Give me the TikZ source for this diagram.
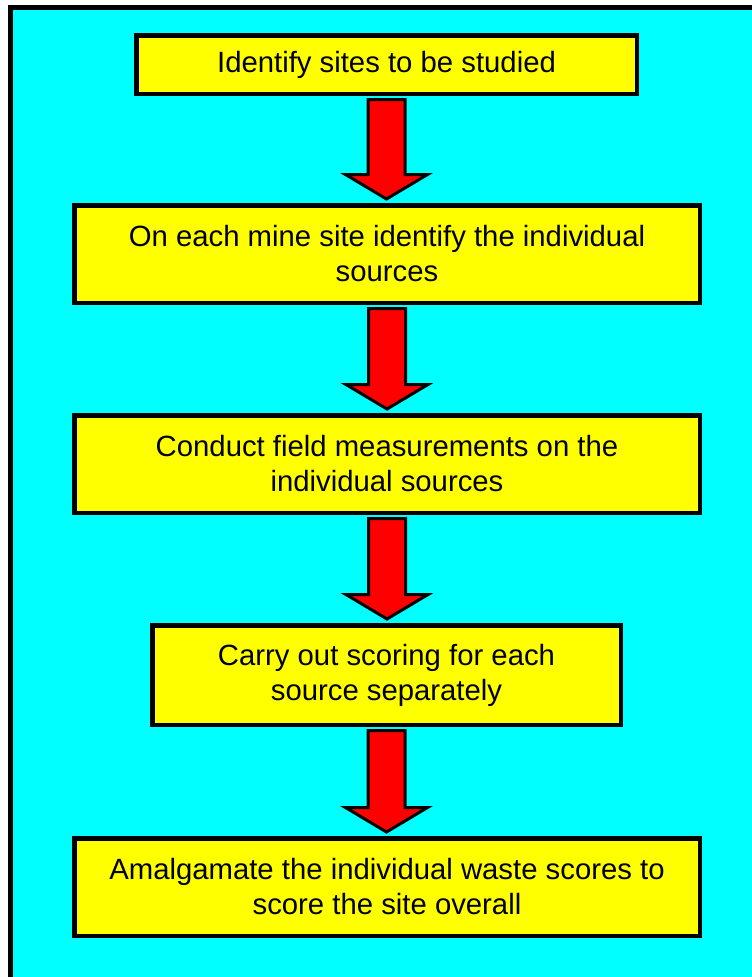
\documentclass[tikz,border=0pt]{standalone}
\usepackage{fontspec}
\setmainfont{Liberation Sans}
\usepackage{tikz}
\usetikzlibrary{calc}
\definecolor{bgcyan}{HTML}{00FFFF}
\definecolor{boxyel}{HTML}{FFFF00}
\definecolor{arrred}{HTML}{FF0000}
\tikzset{
  frm/.style={draw=black,line width=5pt,fill=bgcyan},
  stp/.style={draw=black,line width=4.5pt,fill=boxyel,align=center,inner sep=0pt,font=\fontsize{29.3}{35}\selectfont},
  dn/.style={draw=black,line width=3pt,fill=arrred,line join=miter}
}
\newcommand{\dnarr}[2]{%
  \draw[dn] let \p1=($(#1.south)+(0,-3.5pt)$), \p2=($(#2.north)+(0,4pt)$) in
    (\x1-18.5pt,\y1) -- (\x1+18.5pt,\y1) -- (\x1+18.5pt,\y2+24.5pt) -- (\x1+41pt,\y2+24.5pt)
    -- (\x1,\y2) -- (\x1-41pt,\y2+24.5pt) -- (\x1-18.5pt,\y2+24.5pt) -- cycle;}

\begin{document}
\begin{tikzpicture}[x=1pt,y=-1pt]
\clip (0,0) rectangle (752,977);
\fill[white] (0,0) rectangle (752,977);
\draw[frm] (10.5,7.5) rectangle (775,1000);
\node[stp,minimum width=500.5pt,minimum height=58.5pt] (sites) at (386.5,64.5) {Identify sites to be studied};
\node[stp,minimum width=625.5pt,minimum height=97.5pt] (sources) at (387,254) {On each mine site identify the individual\\sources};
\node[stp,minimum width=625.5pt,minimum height=97.5pt] (measure) at (387,464) {Conduct field measurements on the\\individual sources};
\node[stp,minimum width=468.5pt,minimum height=99.5pt] (scoring) at (386.5,675) {Carry out scoring for each\\source separately};
\node[stp,minimum width=625.5pt,minimum height=97.5pt] (amalg) at (387,887) {Amalgamate the individual waste scores to\\score the site overall};
\dnarr{sites}{sources}
\dnarr{sources}{measure}
\dnarr{measure}{scoring}
\dnarr{scoring}{amalg}
\end{tikzpicture}
\end{document}
